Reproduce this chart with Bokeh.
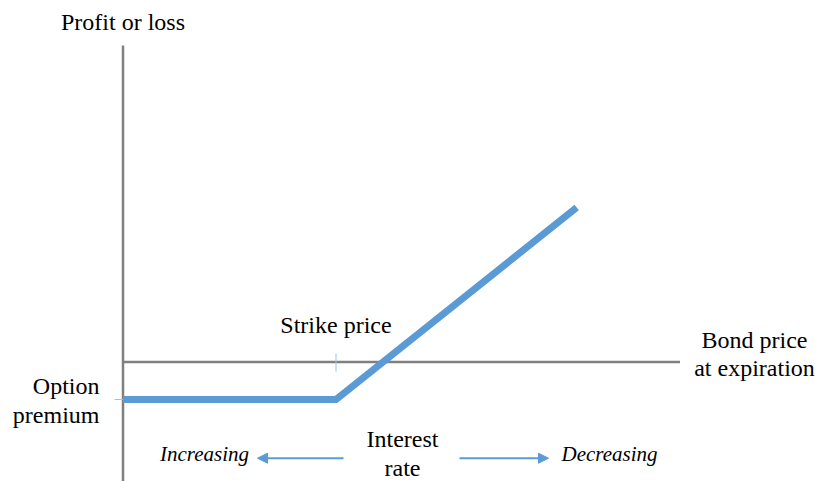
from bokeh.plotting import figure
from bokeh.models import Range1d, Arrow, NormalHead
from bokeh.embed import file_html
from bokeh.resources import INLINE
from bokeh.core.properties import value

# Data (conceptual units)
bond_price = [0, 50, 106.5]      # payoff line x points (strike at 50)
profit = [-1.0, -1.0, 4.12]      # profit: -premium flat, then rising
strike = 50
premium = -1.0
x_axis_end = 130.75
y_axis_top = 8.44

W, H = 815, 481
SX = 4.26      # px per x unit
SY = 37.5      # px per y unit
ORIGIN_PX = (122.5, 361.5)
X_LO = -ORIGIN_PX[0] / SX
X_HI = X_LO + W / SX
Y_HI = ORIGIN_PX[1] / SY
Y_LO = Y_HI - H / SY
TEXT_SHIFT = 9.5  # compensate baseline placement

def dx(px):
    return X_LO + px / SX

def dy(py):
    return Y_HI - py / SY

p = figure(width=W, height=H, x_range=Range1d(X_LO, X_HI), y_range=Range1d(Y_LO, Y_HI),
           output_backend="svg", toolbar_location=None, min_border=0,
           x_axis_type=None, y_axis_type=None)
p.grid.visible = False
p.outline_line_color = None
p.background_fill_color = "white"
p.border_fill_color = "white"

AX = "#7F7F7F"
BLUE = "#5B9BD5"
LIGHT = "#9DC3E6"
FONT = value("Liberation Serif")

# axes
p.segment(x0=[0], y0=[Y_LO - 1], x1=[0], y1=[y_axis_top], line_color=AX, line_width=2.5)
p.segment(x0=[0], y0=[0], x1=[x_axis_end], y1=[0], line_color=AX, line_width=2.5)

# ticks
p.segment(x0=[strike], y0=[dy(353)], x1=[strike], y1=[dy(371)], line_color=LIGHT, line_width=1)
p.segment(x0=[dx(114)], y0=[premium], x1=[0], y1=[premium], line_color=LIGHT, line_width=1)

# payoff
p.line(bond_price, profit, line_width=7, line_color=BLUE, line_cap="butt", line_join="miter")

# arrows
ya = dy(457.7)
for xs, xe in [(dx(343), dx(257)), (dx(459), dx(548))]:
    p.add_layout(Arrow(end=NormalHead(size=10, fill_color=BLUE, line_color=BLUE),
                       x_start=xs, y_start=ya, x_end=xe, y_end=ya,
                       line_color=BLUE, line_width=2))

def txt(px, py, s, align="center", italic=False, size="24px"):
    p.text(x=[dx(px)], y=[dy(py - TEXT_SHIFT)], text=[s], text_font=FONT, text_font_size=size,
           text_align=align, text_baseline="alphabetic", text_color="#000000",
           text_font_style="italic" if italic else "normal")

txt(122.5, 31, "Profit or loss")
txt(335.5, 334, "Strike price")
txt(754, 349, "Bond price")
txt(754, 377, "at expiration")
txt(99, 395, "Option", align="right")
txt(99, 424, "premium", align="right")
txt(402, 448, "Interest")
txt(402, 477, "rate")
txt(204, 463, "Increasing", italic=True, size="21px")
txt(609, 463, "Decreasing", italic=True, size="21px")

open("out.html", "w").write(file_html(p, INLINE))
